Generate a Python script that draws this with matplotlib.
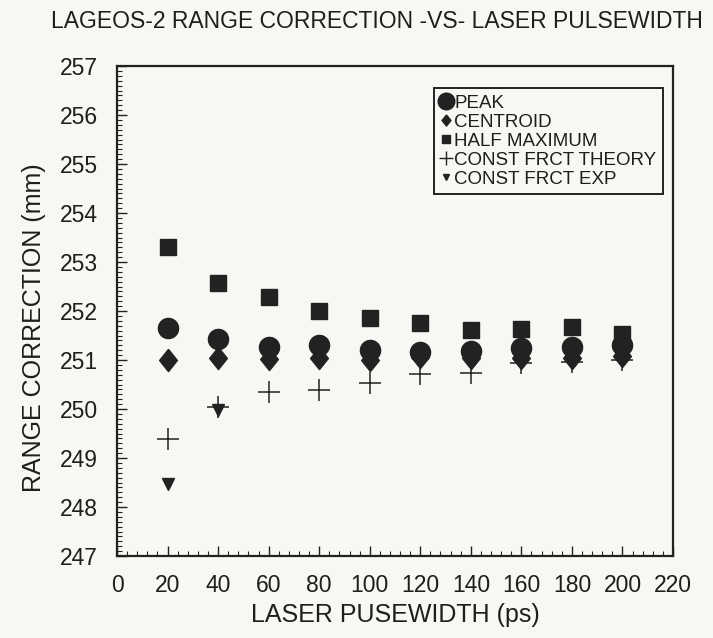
import matplotlib
matplotlib.use("Agg")
import matplotlib.pyplot as plt
from matplotlib.lines import Line2D
from matplotlib.ticker import MultipleLocator, AutoMinorLocator

# pulsewidth (ps)
pulsewidth = [20, 40, 60, 80, 100, 120, 140, 160, 180, 200]
# range correction (mm)
peak = [251.65, 251.43, 251.27, 251.30, 251.20, 251.17, 251.18, 251.24, 251.27, 251.30]
centroid = [251.00, 251.04, 251.02, 251.04, 251.00, 251.06, 251.05, 251.05, 251.05, 251.08]
half_max = [253.30, 252.57, 252.28, 252.00, 251.86, 251.75, 251.62, 251.64, 251.68, 251.54]
frct_theory = [249.39, 250.05, 250.35, 250.38, 250.54, 250.72, 250.74, 250.93, 250.95, 251.00]
frct_exp = [248.47, 249.97, 250.98, 251.00, 251.00, 251.02, 251.02, 251.00, 251.00, 251.05]

labels = ["PEAK", "CENTROID", "HALF MAXIMUM", "CONST FRCT THEORY", "CONST FRCT EXP"]

ink = "#222222"
txt = "#1e1e1e"
bg = "#f8f7f3"
plt.rcParams['font.family'] = ['Liberation Sans', 'DejaVu Sans']

# diamond a bit taller than wide, like the printed one
diamond = [(0, 1), (0.8, 0), (0, -1), (-0.8, 0), (0, 1)]

fig = plt.figure(figsize=(7.13, 6.38), dpi=100, facecolor=bg)
ax = fig.add_axes([117/713, 1-556/638, 556/713, 490/638])
ax.set_facecolor(bg)

ax.plot(pulsewidth, half_max, "s", color=ink, ms=11.5, mec=ink)
ax.plot(pulsewidth, frct_theory, "+", color=ink, ms=16, mew=1.1)
ax.plot(pulsewidth, frct_exp, "v", color=ink, ms=9)
ax.plot(pulsewidth, centroid, marker=diamond, ls="", color=ink, ms=16)
ax.plot(pulsewidth, peak, "o", color=ink, ms=14.5)

ax.set_xlim(0, 220)
ax.set_ylim(247, 257)
ax.xaxis.set_major_locator(MultipleLocator(20))
ax.xaxis.set_minor_locator(AutoMinorLocator(5))
ax.yaxis.set_major_locator(MultipleLocator(1))
ax.yaxis.set_minor_locator(AutoMinorLocator(10))
ax.tick_params(direction="in", which="major", length=7, width=1, color=ink,
               labelsize=16.5, labelcolor=txt)
ax.tick_params(direction="in", which="minor", length=3.5, width=0.8, color=ink)
ax.tick_params(axis="y", pad=14)
ax.tick_params(axis="x", pad=13)
for s in ax.spines.values():
    s.set_linewidth(1.6)
    s.set_color(ink)

ax.set_xlabel("LASER PUSEWIDTH (ps)", fontsize=18, color=txt, labelpad=4)
ax.set_ylabel("RANGE CORRECTION (mm)", fontsize=18, color=txt)
ax.yaxis.set_label_coords(-0.128, 0.465)
fig.text(377/713, 1-22/638, "LAGEOS-2 RANGE CORRECTION -VS- LASER PULSEWIDTH",
         ha="center", va="center", fontsize=16.5, color=txt)

handles = [
    Line2D([], [], ls="", marker="o", color=ink, ms=12),
    Line2D([], [], ls="", marker=diamond, color=ink, ms=8),
    Line2D([], [], ls="", marker="s", color=ink, ms=6),
    Line2D([], [], ls="", marker="+", color=ink, ms=10, mew=1.0),
    Line2D([], [], ls="", marker="v", color=ink, ms=5),
]
leg = ax.legend(handles, labels, loc="upper right", bbox_to_anchor=(0.982, 0.955),
                borderaxespad=0, fontsize=13.5, handlelength=0.6, handletextpad=0.15,
                labelspacing=0.1, borderpad=0.35, fancybox=False, framealpha=1,
                edgecolor=ink, facecolor=bg)
leg.get_frame().set_linewidth(1.4)
for t in leg.get_texts():
    t.set_color(txt)

fig.savefig("out.png", dpi=100, facecolor=fig.get_facecolor())
